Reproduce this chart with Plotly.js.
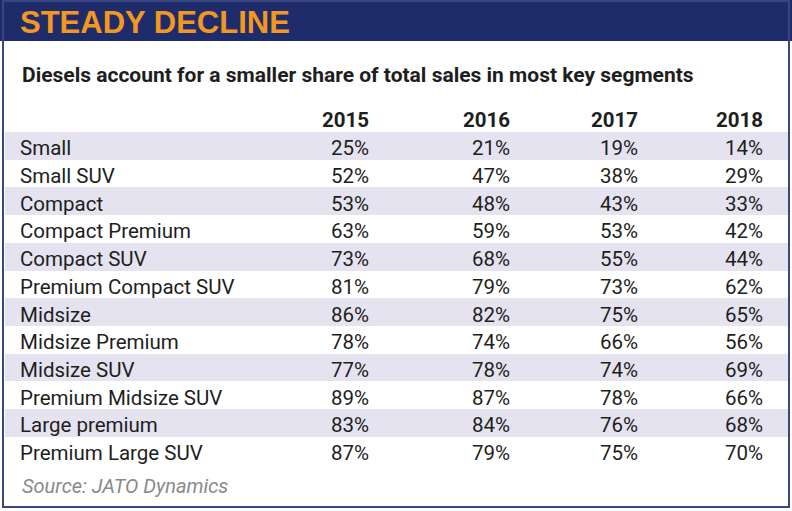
<!DOCTYPE html>
<html><head><meta charset="utf-8">
<script src="https://cdn.plot.ly/plotly-3.0.1.min.js"></script>
<style>body{margin:0;padding:0;background:#fff}#chart{width:792px;height:511px}</style>
</head><body><div id="chart"></div>
<script>
const segments = ["Small","Small SUV","Compact","Compact Premium","Compact SUV","Premium Compact SUV","Midsize","Midsize Premium","Midsize SUV","Premium Midsize SUV","Large premium","Premium Large SUV"];
const years = ["2015","2016","2017","2018"];
const v2015 = [25,52,53,63,73,81,86,78,77,89,83,87];
const v2016 = [21,47,48,59,68,79,82,74,78,87,84,79];
const v2017 = [19,38,43,53,55,73,75,66,74,78,76,75];
const v2018 = [14,29,33,42,44,62,65,56,69,66,68,70];
const titleText = "STEADY DECLINE";
const subtitleText = "Diesels account for a smaller share of total sales in most key segments";
const sourceText = "Source: JATO Dynamics";

const W = 792, H = 511;
const px = x => x / W;
const py = y => 1 - y / H;
const NAVY = "#1f2c6c", ORANGE = "#f2981f", SHADE = "#e4e3ef", TXT = "#1e1e1e";
const bodyFont = "Roboto, 'Noto Sans', sans-serif";

const pct = arr => arr.map(v => v + "%");
const valueCols = [v2015, v2016, v2017, v2018].map(pct);
const blank = segments.map(() => "");
const rowFill = segments.map((_, i) => i % 2 === 0 ? SHADE : "#ffffff");
const nCols = 7;
const fills = Array.from({length: nCols}, () => rowFill);

const tableTop = 104, headerH = 28, rowH = 27.7;
const tableBottom = tableTop + headerH + rowH * segments.length + 4;

const trace = {
  type: "table",
  domain: {x: [px(5), px(789)], y: [py(tableBottom), py(tableTop)]},
  columnwidth: [7, 270, 95, 141, 128, 125, 18],
  header: {
    values: ["", ""].concat(years).concat([""]),
    align: ["left", "left", "right", "right", "right", "right", "right"],
    height: headerH,
    fill: {color: "#ffffff"},
    line: {width: 0, color: "rgba(0,0,0,0)"},
    font: {family: bodyFont, size: 20.5, color: TXT, weight: "bold"}
  },
  cells: {
    values: [blank, segments].concat(valueCols).concat([blank]),
    align: ["left", "left", "right", "right", "right", "right", "right"],
    height: rowH,
    fill: {color: fills},
    line: {width: 0, color: "rgba(0,0,0,0)"},
    font: {family: bodyFont, size: 20.5, color: TXT}
  }
};

const layout = {
  width: W, height: H,
  margin: {l: 0, r: 0, t: 0, b: 0},
  paper_bgcolor: "#ffffff",
  showlegend: false,
  title: {
    text: "<b>" + titleText + "</b>",
    x: px(20), xanchor: "left", xref: "paper",
    y: py(22), yanchor: "middle", yref: "paper",
    font: {family: "'Liberation Sans', Arial, sans-serif", size: 31, color: ORANGE}
  },
  shapes: [
    {type: "rect", xref: "paper", yref: "paper", x0: px(0), x1: px(792), y0: py(0), y1: py(41), fillcolor: NAVY, line: {width: 0}, layer: "below"},
    {type: "rect", xref: "paper", yref: "paper", x0: px(3), x1: px(789), y0: py(1), y1: py(507), fillcolor: "rgba(0,0,0,0)", line: {width: 2, color: "#3a4680"}, layer: "above"}
  ],
  annotations: [
    {text: "<b>" + subtitleText + "</b>", xref: "paper", yref: "paper", x: px(20), y: py(75), xanchor: "left", yanchor: "middle", showarrow: false,
     font: {family: bodyFont, size: 21, color: TXT}},
    {text: "<i>" + sourceText + "</i>", xref: "paper", yref: "paper", x: px(20), y: py(486), xanchor: "left", yanchor: "middle", showarrow: false,
     font: {family: bodyFont, size: 20, color: "#8a8a8a"}}
  ]
};

Plotly.newPlot("chart", [trace], layout, {displayModeBar: false, staticPlot: true});
</script></body></html>
